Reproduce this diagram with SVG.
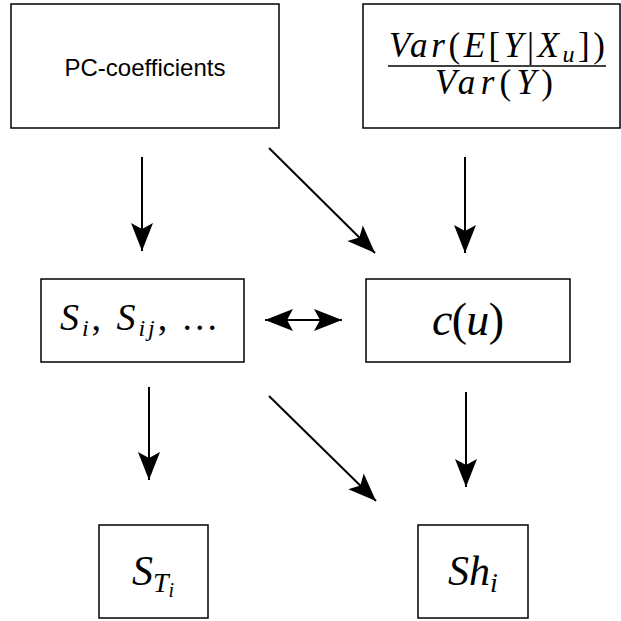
<svg xmlns="http://www.w3.org/2000/svg" width="621" height="621" viewBox="0 0 621 621">
<style>
.box{fill:#fff;stroke:#000;stroke-width:1.5}
.edge{stroke:#000;stroke-width:2;fill:none}
.sans{font-family:"Liberation Sans",Arial,sans-serif;fill:#000}
.math{font-family:"Liberation Serif","Times New Roman","DejaVu Serif",serif;font-style:italic;fill:#000}
.up{font-style:normal}
</style>
<defs>
<marker id="ah" markerUnits="userSpaceOnUse" markerWidth="30" markerHeight="26" viewBox="-29 -12 30 24" refX="0" refY="0" orient="auto-start-reverse">
<path d="M0,0 L-28,-11 L-22,0 L-28,11 Z" fill="#000"/>
</marker>
</defs>
<rect width="621" height="621" fill="#fff"/>
<g id="n-pc">
<rect class="box" x="11" y="4" width="268" height="124"/>
<text class="sans" x="145" y="76" font-size="24" text-anchor="middle">PC-coefficients</text>
</g>
<g id="n-var">
<rect class="box" x="363" y="4" width="257" height="124"/>
<text class="math" x="497" y="57" font-size="35" text-anchor="middle" textLength="216" lengthAdjust="spacing">Var<tspan class="up">(</tspan>E<tspan class="up">[</tspan>Y<tspan class="up">|</tspan>X<tspan font-size="24" dy="5">u</tspan><tspan class="up" dy="-5">])</tspan></text>
<line x1="388" y1="66" x2="606" y2="66" stroke="#000" stroke-width="1.6"/>
<text class="math" x="494" y="94" font-size="35" text-anchor="middle" textLength="118" lengthAdjust="spacing">Var<tspan class="up">(</tspan>Y<tspan class="up">)</tspan></text>
</g>
<g id="n-s">
<rect class="box" x="41" y="279" width="203" height="83"/>
<text class="math" x="60" y="330" font-size="38" textLength="157" lengthAdjust="spacing">S<tspan font-size="24" dy="6">i</tspan><tspan class="up" dy="-6">, </tspan>S<tspan font-size="24" dy="6">ij</tspan><tspan class="up" dy="-6">, ...</tspan></text>
</g>
<g id="n-c">
<rect class="box" x="366" y="279" width="204" height="83"/>
<text class="math" x="468" y="335" font-size="46" text-anchor="middle" textLength="72" lengthAdjust="spacing">c<tspan class="up">(</tspan>u<tspan class="up">)</tspan></text>
</g>
<g id="n-st">
<rect class="box" x="99" y="525" width="109" height="93"/>
<text class="math" x="153" y="585" font-size="42" text-anchor="middle">S<tspan font-size="28" dy="7">T</tspan><tspan font-size="20" dy="5">i</tspan></text>
</g>
<g id="n-sh">
<rect class="box" x="418" y="525" width="110" height="93"/>
<text class="math" x="473" y="585" font-size="42" text-anchor="middle">Sh<tspan font-size="28" dy="7">i</tspan></text>
</g>
<g id="connectors" class="edge">
<line x1="142" y1="157" x2="142" y2="251" marker-end="url(#ah)"/>
<line x1="269" y1="148" x2="375" y2="253" marker-end="url(#ah)"/>
<line x1="465" y1="157" x2="465" y2="253" marker-end="url(#ah)"/>
<line x1="265" y1="320" x2="342" y2="320" marker-start="url(#ah)" marker-end="url(#ah)"/>
<line x1="149" y1="387" x2="149" y2="480" marker-end="url(#ah)"/>
<line x1="269" y1="396" x2="376" y2="501" marker-end="url(#ah)"/>
<line x1="466" y1="392" x2="466" y2="487" marker-end="url(#ah)"/>
</g>
</svg>
